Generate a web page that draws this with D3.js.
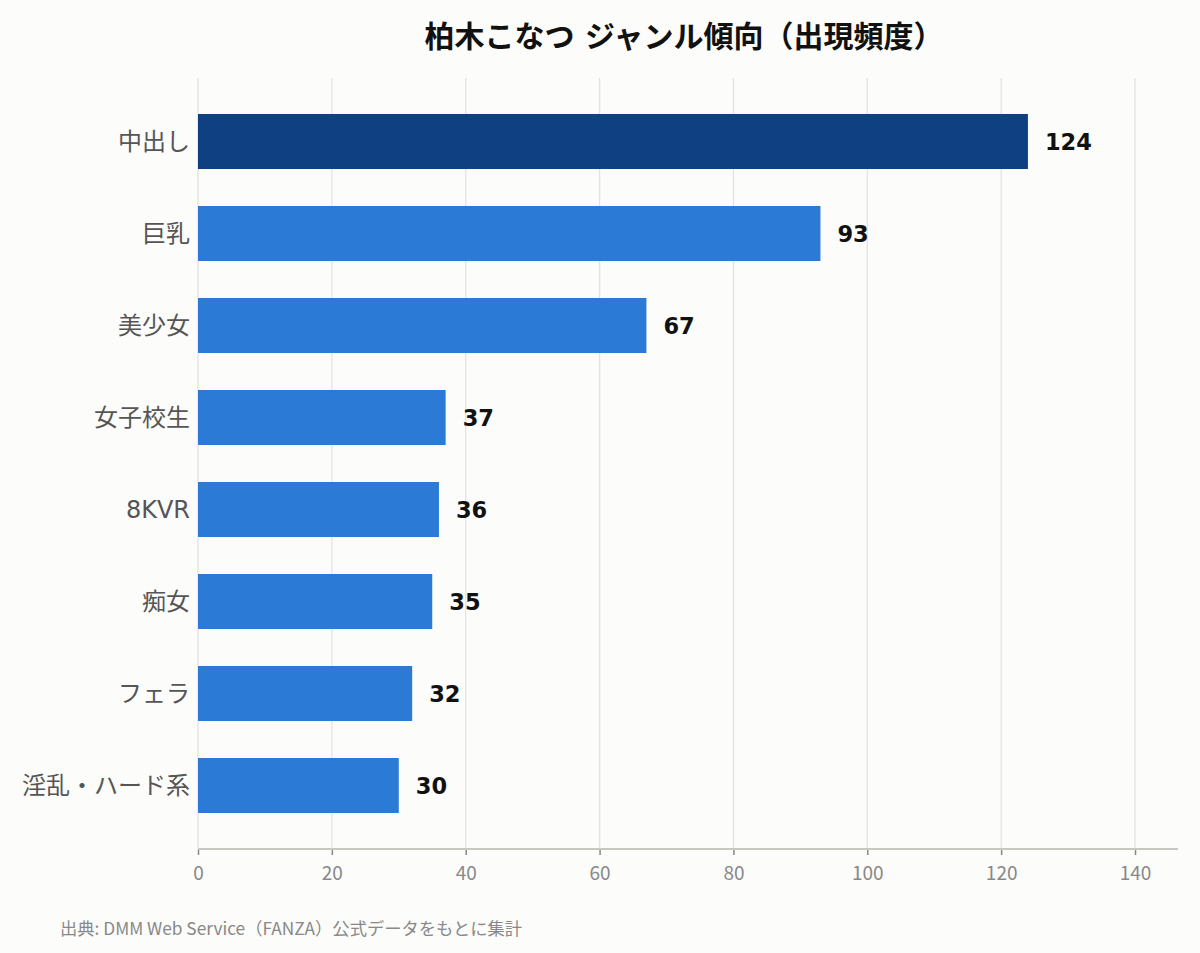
<!DOCTYPE html>
<html>
<head>
<meta charset="utf-8">
<script src="https://cdn.jsdelivr.net/npm/d3@7"></script>
<style>
  body { margin: 0; background: #fcfcfa; }
  svg { display: block; font-family: "DejaVu Sans", "Noto Sans CJK JP", sans-serif; }
</style>
</head>
<body>
<svg id="chart" width="1200" height="953"></svg>
<script>
const genres = ['中出し', '巨乳', '美少女', '女子校生', '8KVR', '痴女', 'フェラ', '淫乱・ハード系'];
const counts = [124, 93, 67, 37, 36, 35, 32, 30];
const xTicks = [0, 20, 40, 60, 80, 100, 120, 140];

const svg = d3.select('#chart');
const width = 1200, height = 953;

svg.append('rect').attr('width', width).attr('height', height).attr('fill', '#fcfcfa');

const xs = d3.scaleLinear().domain([0, 140]).range([198, 1135]);
const ys = d3.scaleBand().domain(genres).range([95.5, 831.5]).paddingInner(0.402).paddingOuter(0.201);

// grid lines
svg.append('g')
    .selectAll('line')
    .data(xTicks)
    .enter()
    .append('line')
    .attr('x1', d => xs(d))
    .attr('x2', d => xs(d))
    .attr('y1', 78)
    .attr('y2', 848)
    .attr('stroke', '#e3e3de')
    .attr('stroke-width', 1.3);

// bars
svg.append('g')
    .selectAll('rect')
    .data(genres)
    .enter()
    .append('rect')
    .attr('x', xs(0))
    .attr('y', d => ys(d))
    .attr('width', (d, i) => xs(counts[i]) - xs(0))
    .attr('height', ys.bandwidth())
    .attr('fill', (d, i) => i === 0 ? '#0f4082' : '#2a7ad6');

// value labels
svg.append('g')
    .selectAll('text')
    .data(genres)
    .enter()
    .append('text')
    .attr('x', (d, i) => xs(counts[i]) + 17)
    .attr('y', d => ys(d) + ys.bandwidth() / 2)
    .attr('dominant-baseline', 'central')
    .attr('font-size', 22.5)
    .attr('font-weight', 'bold')
    .attr('fill', '#111')
    .text((d, i) => counts[i]);

// category labels
svg.append('g')
    .selectAll('text')
    .data(genres)
    .enter()
    .append('text')
    .attr('x', 190)
    .attr('y', d => ys(d) + ys.bandwidth() / 2)
    .attr('dominant-baseline', 'central')
    .attr('text-anchor', 'end')
    .attr('font-size', 24)
    .attr('fill', '#555')
    .text(d => d);

// bottom axis
const axis = svg.append('g')
    .attr('transform', 'translate(0,849)')
    .call(d3.axisBottom(xs).tickValues(xTicks).tickSize(6).tickPadding(12).tickSizeOuter(0));
axis.select('.domain').remove();
axis.append('line')
    .attr('x1', xs(0)).attr('x2', 1178)
    .attr('stroke', '#c8c8c2').attr('stroke-width', 2);
axis.selectAll('.tick line').attr('stroke', '#888').attr('stroke-width', 1.5).attr('y1', 0).attr('y2', 6);
axis.selectAll('.tick text')
    .attr('font-size', 19)
    .attr('font-family', '"Noto Sans CJK JP", sans-serif')
    .attr('fill', '#888');

// title
svg.append('text')
    .attr('x', 684)
    .attr('y', 47)
    .attr('text-anchor', 'middle')
    .attr('font-weight', 'bold')
    .attr('font-size', 30)
    .attr('fill', '#111')
    .text('柏木こなつ ジャンル傾向（出現頻度）');

// source
svg.append('text')
    .attr('x', 60)
    .attr('y', 935)
    .attr('font-family', '"Noto Sans CJK JP", sans-serif')
    .attr('font-size', 17.3)
    .attr('fill', '#888')
    .text('出典: DMM Web Service（FANZA）公式データをもとに集計');
</script>
</body>
</html>
